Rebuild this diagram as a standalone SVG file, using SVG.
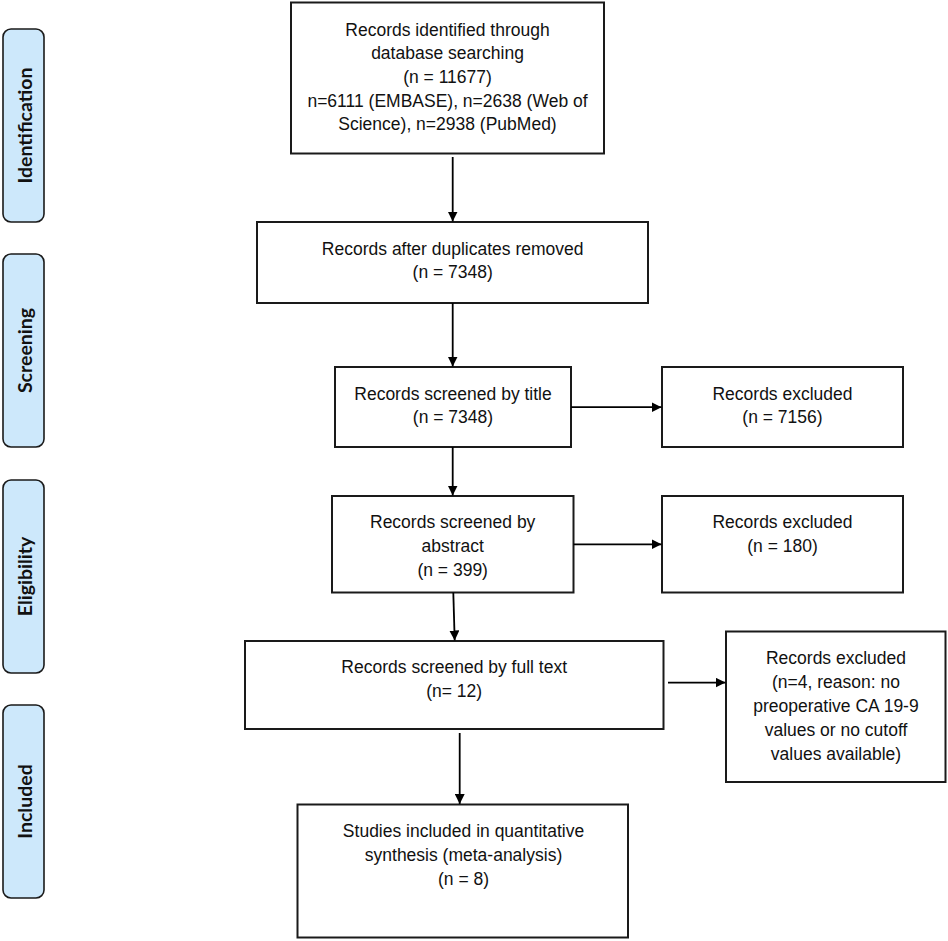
<svg xmlns="http://www.w3.org/2000/svg" width="948" height="941" viewBox="0 0 948 941">
<defs>
<marker id="ah" markerUnits="userSpaceOnUse" markerWidth="10" markerHeight="10" refX="10" refY="5" orient="auto">
<path d="M0,0 L10,5 L0,10 Z" fill="#000"/>
</marker>
<style>
.box{fill:#fff;stroke:#1a1a1a;stroke-width:2}
.side{fill:#cde8fb;stroke:#1a1a1a;stroke-width:1.6}
.t{font-family:"Liberation Sans",Arial,sans-serif;font-size:17.5px;fill:#111;text-anchor:middle}
.s{font-family:Lato,"Liberation Sans",sans-serif;font-weight:bold;font-size:19.5px;fill:#111;text-anchor:middle}
.c{fill:none;stroke:#000;stroke-width:1.8;marker-end:url(#ah)}
</style>
</defs>
<rect width="948" height="941" fill="#fff"/>
<g id="side-identification">
<rect class="side" x="3" y="29" width="41" height="193" rx="8"/>
<text class="s" transform="translate(32,125.5) rotate(-90)">Identification</text>
</g>
<g id="side-screening">
<rect class="side" x="3" y="254" width="41" height="193" rx="8"/>
<text class="s" transform="translate(32,350.5) rotate(-90)">Screening</text>
</g>
<g id="side-eligibility">
<rect class="side" x="3" y="480" width="41" height="193" rx="8"/>
<text class="s" transform="translate(32,576.5) rotate(-90)">Eligibility</text>
</g>
<g id="side-included">
<rect class="side" x="3" y="705" width="41" height="193" rx="8"/>
<text class="s" transform="translate(32,801.5) rotate(-90)">Included</text>
</g>
<g id="n-identified">
<rect class="box" x="291" y="2.5" width="313" height="151"/>
<text class="t" x="447.5" y="35.5">Records identified through</text>
<text class="t" x="447.5" y="59.2">database searching</text>
<text class="t" x="447.5" y="82.9">(n = 11677)</text>
<text class="t" x="447.5" y="106.6">n=6111 (EMBASE), n=2638 (Web of</text>
<text class="t" x="447.5" y="130.3">Science), n=2938 (PubMed)</text>
</g>
<g id="n-duplicates">
<rect class="box" x="257" y="222" width="391" height="81"/>
<text class="t" x="452.7" y="255">Records after duplicates removed</text>
<text class="t" x="452.7" y="278.3">(n = 7348)</text>
</g>
<g id="n-title">
<rect class="box" x="335" y="367" width="236" height="80"/>
<text class="t" x="453" y="399.5">Records screened by title</text>
<text class="t" x="453" y="422.8">(n = 7348)</text>
</g>
<g id="n-excl-title">
<rect class="box" x="662" y="367" width="241" height="80"/>
<text class="t" x="782.5" y="399.5">Records excluded</text>
<text class="t" x="782.5" y="423.3">(n = 7156)</text>
</g>
<g id="n-abstract">
<rect class="box" x="332" y="496" width="241.5" height="96.5"/>
<text class="t" x="452.7" y="528.3">Records screened by</text>
<text class="t" x="452.7" y="552.2">abstract</text>
<text class="t" x="452.7" y="576">(n = 399)</text>
</g>
<g id="n-excl-abstract">
<rect class="box" x="662" y="496" width="241" height="96.5"/>
<text class="t" x="782.5" y="528.3">Records excluded</text>
<text class="t" x="782.5" y="551.8">(n = 180)</text>
</g>
<g id="n-fulltext">
<rect class="box" x="245" y="641" width="418.5" height="88"/>
<text class="t" x="454.2" y="673.3">Records screened by full text</text>
<text class="t" x="454.2" y="697.3">(n= 12)</text>
</g>
<g id="n-excl-fulltext">
<rect class="box" x="726" y="631.5" width="219.5" height="150.5"/>
<text class="t" x="836" y="663.5">Records excluded</text>
<text class="t" x="836" y="688">(n=4, reason: no</text>
<text class="t" x="836" y="712.2">preoperative CA 19-9</text>
<text class="t" x="836" y="736.3">values or no cutoff</text>
<text class="t" x="836" y="760">values available)</text>
</g>
<g id="n-included">
<rect class="box" x="297.5" y="804.5" width="330.5" height="133"/>
<text class="t" x="463.5" y="836.7">Studies included in quantitative</text>
<text class="t" x="463.5" y="861.2">synthesis (meta-analysis)</text>
<text class="t" x="463.5" y="885">(n = 8)</text>
</g>
<g id="connectors">
<path class="c" d="M452.7,157 L452.7,221.5"/>
<path class="c" d="M452.7,303 L452.7,366.5"/>
<path class="c" d="M452.7,447 L452.7,495.5"/>
<path class="c" d="M571,407.2 L661.5,407.2"/>
<path class="c" d="M573.5,544.3 L661.5,544.3"/>
<path class="c" d="M453.3,592.5 L454.7,640.5"/>
<path class="c" d="M668,682.6 L725.5,682.6"/>
<path class="c" d="M459.7,733 L459.7,804"/>
</g>
</svg>
